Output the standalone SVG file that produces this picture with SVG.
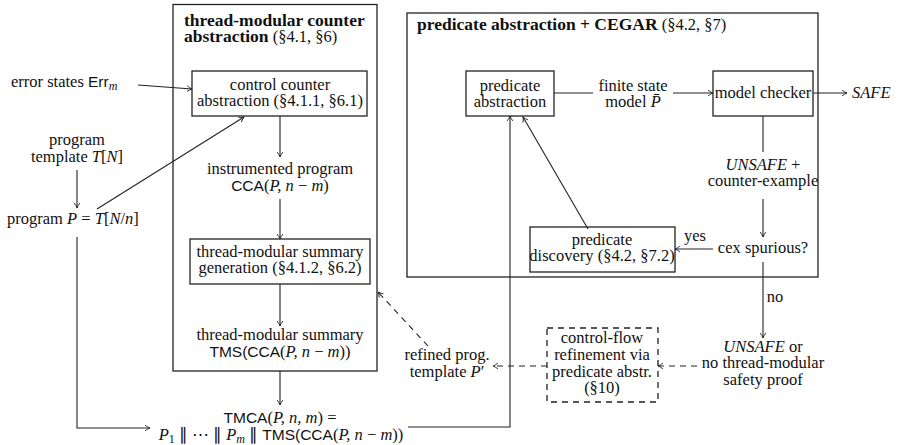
<svg xmlns="http://www.w3.org/2000/svg" width="919" height="445" viewBox="0 0 919 445">
<defs>
<marker id="ah" viewBox="0 0 10 10" refX="9" refY="5" markerWidth="7" markerHeight="7" markerUnits="userSpaceOnUse" orient="auto">
<path d="M2,1 Q6,4 9,5 Q6,6 2,9" fill="none" stroke="#222" stroke-width="1.3"/>
</marker>
</defs>
<style>
text{font-family:"Liberation Serif","Times New Roman",serif;font-size:16.5px;fill:#111}
.c{text-anchor:middle}
.b{font-weight:bold;font-size:17.5px}
.i{font-style:italic}
.s{font-family:"Liberation Sans",Arial,sans-serif;font-size:15.5px}
.box{fill:none;stroke:#222;stroke-width:1.3}
.ln{fill:none;stroke:#222;stroke-width:1.1}
.ar{marker-end:url(#ah)}
.d{stroke-dasharray:6,5}
</style>
<rect width="919" height="445" fill="#fff"/>

<g id="group-tmca">
<rect class="box" x="173" y="4.5" width="204" height="366.5"/>
<text x="184" y="26" class="b">thread-modular counter</text>
<text x="184" y="42"><tspan class="b">abstraction</tspan> (§4.1, §6)</text>
</g>

<g id="group-cegar">
<rect class="box" x="407" y="13" width="411" height="264"/>
<text x="417" y="30"><tspan class="b">predicate abstraction + CEGAR</tspan> (§4.2, §7)</text>
</g>

<g id="connectors">
<line class="ln ar" x1="138" y1="85" x2="192" y2="89"/>
<line class="ln ar" x1="77" y1="170" x2="77" y2="208"/>
<line class="ln ar" x1="97" y1="209" x2="244" y2="117"/>
<polyline class="ln ar" points="77,237 77,428 150,428"/>
<line class="ln ar" x1="280" y1="116" x2="280" y2="157"/>
<line class="ln ar" x1="280" y1="199" x2="280" y2="239"/>
<line class="ln ar" x1="280" y1="284" x2="280" y2="326"/>
<line class="ln ar" x1="280" y1="371" x2="280" y2="405"/>
<polyline class="ln ar" points="408,427 510,427 510,116"/>
<line class="ln" x1="554" y1="93" x2="593" y2="93"/>
<line class="ln ar" x1="673" y1="93" x2="713" y2="93"/>
<line class="ln ar" x1="813" y1="93" x2="847" y2="93"/>
<line class="ln" x1="763" y1="116" x2="763" y2="152"/>
<line class="ln ar" x1="763" y1="199" x2="763" y2="237"/>
<line class="ln ar" x1="713" y1="249" x2="675" y2="249"/>
<line class="ln ar" x1="588" y1="229" x2="523" y2="117"/>
<line class="ln ar" x1="763" y1="262" x2="763" y2="338"/>
<line class="ln ar d" x1="697" y1="366" x2="658" y2="366"/>
<line class="ln ar d" x1="547" y1="366" x2="493" y2="366"/>
<line class="ln ar d" x1="428" y1="346" x2="378" y2="292"/>
<text x="695" y="241" class="c">yes</text>
<text x="775" y="302" class="c">no</text>
</g>

<g id="n-error">
<text x="11" y="87">error states <tspan class="s">Err</tspan><tspan class="i" font-size="12" dy="3">m</tspan></text>
</g>

<g id="n-template">
<text x="77" y="145" class="c">program</text>
<text x="77" y="162" class="c">template <tspan class="i">T</tspan>[<tspan class="i">N</tspan>]</text>
</g>

<g id="n-program">
<text x="7" y="224">program <tspan class="i">P</tspan> = <tspan class="i">T</tspan>[<tspan class="i">N</tspan>/<tspan class="i">n</tspan>]</text>
</g>

<g id="n-cca-box">
<rect class="box" x="192" y="71" width="175" height="45"/>
<text x="280" y="90" class="c">control counter</text>
<text x="280" y="106" class="c">abstraction (§4.1.1, §6.1)</text>
</g>

<g id="n-instr">
<text x="280" y="174" class="c">instrumented program</text>
<text x="280" y="191" class="c"><tspan class="s">CCA</tspan>(<tspan class="i">P, n</tspan> − <tspan class="i">m</tspan>)</text>
</g>

<g id="n-tms-box">
<rect class="box" x="190" y="239" width="180" height="45"/>
<text x="280" y="257" class="c">thread-modular summary</text>
<text x="280" y="273" class="c">generation (§4.1.2, §6.2)</text>
</g>

<g id="n-tms">
<text x="280" y="340" class="c">thread-modular summary</text>
<text x="280" y="357" class="c"><tspan class="s">TMS(CCA</tspan>(<tspan class="i">P, n</tspan> − <tspan class="i">m</tspan>))</text>
</g>

<g id="n-tmca">
<text x="280" y="423" class="c"><tspan class="s">TMCA</tspan>(<tspan class="i">P, n, m</tspan>) =</text>
<text x="281" y="440" class="c"><tspan class="i">P</tspan><tspan font-size="12" dy="3">1</tspan><tspan dy="-3"> ∥ ⋯ ∥ </tspan><tspan class="i">P</tspan><tspan class="i" font-size="12" dy="3">m</tspan><tspan dy="-3"> ∥ </tspan><tspan class="s">TMS(CCA</tspan>(<tspan class="i">P, n</tspan> − <tspan class="i">m</tspan>))</text>
</g>

<g id="n-predabs">
<rect class="box" x="466" y="71" width="88" height="45"/>
<text x="510" y="91" class="c">predicate</text>
<text x="510" y="107" class="c">abstraction</text>
</g>

<g id="n-fsm">
<text x="633" y="91" class="c">finite state</text>
<text x="633" y="107" class="c">model <tspan class="i">P̄</tspan></text>
</g>

<g id="n-mc">
<rect class="box" x="713" y="71" width="100" height="45"/>
<text x="763" y="98" class="c">model checker</text>
</g>

<g id="n-safe">
<text x="852" y="98" class="i">SAFE</text>
</g>

<g id="n-unsafe-cex">
<text x="763" y="170" class="c"><tspan class="i">UNSAFE</tspan> +</text>
<text x="763" y="186" class="c">counter-example</text>
</g>

<g id="n-spurious">
<text x="763" y="253" class="c">cex spurious?</text>
</g>

<g id="n-discovery">
<rect class="box" x="530" y="227" width="145" height="45"/>
<text x="602" y="245" class="c">predicate</text>
<text x="602" y="261" class="c">discovery (§4.2, §7.2)</text>
</g>

<g id="n-unsafe">
<text x="763" y="352" class="c"><tspan class="i">UNSAFE</tspan> or</text>
<text x="763" y="368" class="c">no thread-modular</text>
<text x="763" y="385" class="c">safety proof</text>
</g>

<g id="n-cfr">
<rect class="box d" x="547" y="328" width="111" height="74"/>
<text x="602" y="343" class="c">control-flow</text>
<text x="602" y="360" class="c">refinement via</text>
<text x="602" y="377" class="c">predicate abstr.</text>
<text x="602" y="393" class="c">(§10)</text>
</g>

<g id="n-refined">
<text x="447" y="360" class="c">refined prog.</text>
<text x="447" y="377" class="c">template <tspan class="i">P</tspan>′</text>
</g>
</svg>
